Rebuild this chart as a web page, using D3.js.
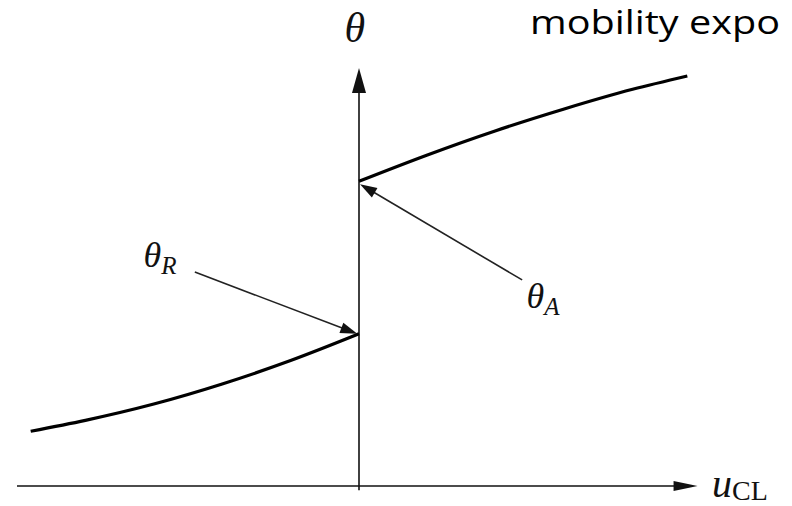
<!DOCTYPE html>
<html>
<head>
<meta charset="utf-8">
<script src="https://cdn.jsdelivr.net/npm/d3@7/dist/d3.min.js"></script>
<style>
  html, body { margin: 0; padding: 0; background: #fff; }
  svg { display: block; }
</style>
</head>
<body>
<div id="chart"></div>
<script>
// Contact-angle hysteresis sketch: dynamic angle θ versus contact-line speed u_CL.
const receding = { u: [-0.96, -0.8, -0.6, -0.4, -0.2, 0], theta: [13.1, 15.7, 19.6, 24.4, 30.0, 36.4] };
const advancing = { u: [0, 0.2, 0.4, 0.6, 0.8, 0.96], theta: [72.9, 79.2, 85.0, 90.2, 94.9, 98.1] };

// Axis extents in data units (u, θ)
const xAxisExtent = [-1, 0.99];
const yAxisExtent = [-1, 100];

// Annotation arrows: label anchor -> point on curve
const annotations = [
  { key: "R", from: [-0.48, 51.2], to: [-0.005, 36.4], label: [-0.63, 52.5] },
  { key: "A", from: [0.477, 49.3], to: [0.003, 72.2], label: [0.49, 42.5] }
];

const W = 792, H = 506;
const x = d3.scaleLinear().domain([-1, 1]).range([17, 701]);
const y = d3.scaleLinear().domain([0, 100]).range([486, 68]);

const svg = d3.select("#chart").append("svg")
  .attr("width", W).attr("height", H)
  .style("background", "#fff");

// Triangle arrowhead at (tx,ty) pointing along direction from (fx,fy)
function head(fx, fy, tx, ty, len, half) {
  const dx = tx - fx, dy = ty - fy, d = Math.hypot(dx, dy);
  const ux = dx / d, uy = dy / d;
  const bx = tx - ux * len, by = ty - uy * len;
  return `M${tx},${ty}L${bx - uy * half},${by + ux * half}L${bx + uy * half},${by - ux * half}Z`;
}

// Axes
svg.append("line")
  .attr("x1", x(xAxisExtent[0])).attr("x2", x(xAxisExtent[1]) - 10)
  .attr("y1", y(0)).attr("y2", y(0))
  .attr("stroke", "#111").attr("stroke-width", 1.6);
svg.append("path")
  .attr("d", head(x(0), y(0), x(xAxisExtent[1]), y(0), 24, 5))
  .attr("fill", "#111");

svg.append("line")
  .attr("x1", x(0)).attr("x2", x(0))
  .attr("y1", y(yAxisExtent[0])).attr("y2", y(yAxisExtent[1]) + 10)
  .attr("stroke", "#111").attr("stroke-width", 1.6);
svg.append("path")
  .attr("d", head(x(0), y(0), x(0), y(yAxisExtent[1]), 25, 7))
  .attr("fill", "#111");

// Curves
const line = d3.line()
  .x(d => x(d[0])).y(d => y(d[1]))
  .curve(d3.curveMonotoneX);

[receding, advancing].forEach(s => {
  svg.append("path")
    .datum(d3.zip(s.u, s.theta))
    .attr("d", line)
    .attr("fill", "none")
    .attr("stroke", "#000")
    .attr("stroke-width", 3.2)
    .attr("stroke-linecap", "butt");
});

// Annotation arrows and labels
annotations.forEach(a => {
  const fx = x(a.from[0]), fy = y(a.from[1]), tx = x(a.to[0]), ty = y(a.to[1]);
  const dx = tx - fx, dy = ty - fy, d = Math.hypot(dx, dy);
  svg.append("line")
    .attr("x1", fx).attr("y1", fy)
    .attr("x2", tx - dx / d * 12).attr("y2", ty - dy / d * 12)
    .attr("stroke", "#222").attr("stroke-width", 1.6);
  svg.append("path")
    .attr("d", head(fx, fy, tx, ty, 17, 5.5))
    .attr("fill", "#111");

  const t = svg.append("text")
    .attr("x", x(a.label[0])).attr("y", y(a.label[1]))
    .attr("font-family", "'Liberation Serif', 'DejaVu Serif', serif")
    .attr("font-style", "italic")
    .attr("font-size", 36)
    .attr("fill", "#111");
  t.append("tspan").text("θ");
  t.append("tspan").attr("font-size", 25).attr("dy", 7).text(a.key);
});

// Axis labels
svg.append("text")
  .attr("x", x(-0.012)).attr("y", 42)
  .attr("text-anchor", "middle")
  .attr("font-family", "'Liberation Serif', 'DejaVu Serif', serif")
  .attr("font-style", "italic")
  .attr("font-size", 42)
  .attr("fill", "#111")
  .text("θ");

const ul = svg.append("text")
  .attr("x", 712).attr("y", 497)
  .attr("font-family", "'Liberation Serif', 'DejaVu Serif', serif")
  .attr("font-size", 40)
  .attr("fill", "#111");
ul.append("tspan").attr("font-style", "italic").text("u");
ul.append("tspan").attr("font-size", 28).attr("dy", 3).text("CL");

// Heading text at the top right
svg.append("text")
  .attr("x", 530).attr("y", 34)
  .attr("font-family", "'Open Sans', sans-serif")
  .attr("font-size", 32)
  .attr("fill", "#000")
  .attr("textLength", 250)
  .attr("lengthAdjust", "spacingAndGlyphs")
  .text("mobility expo");
</script>
</body>
</html>
